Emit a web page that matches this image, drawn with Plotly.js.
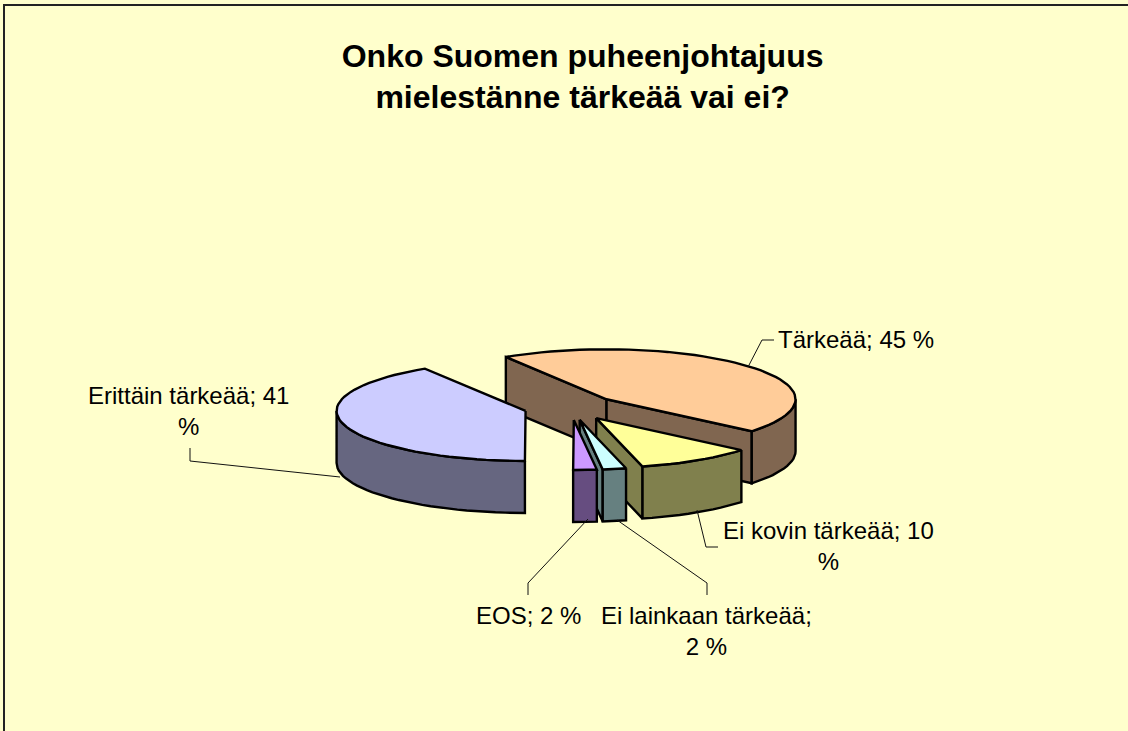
<!DOCTYPE html>
<html><head><meta charset="utf-8">
<script src="https://cdn.plot.ly/plotly-3.0.1.min.js"></script>
<style>html,body{margin:0;padding:0;background:#FFFFCC}#chart{width:1128px;height:731px}</style>
</head><body><div id="chart"></div>
<script>
const categories = ["Tärkeää","Ei kovin tärkeää","Ei lainkaan tärkeää","EOS","Erittäin tärkeää"];
const values = [45,10,2,2,41];
const topColors = ["#FFCC99","#FFFF99","#CCFFFF","#CC99FF","#CCCCFF"];
const sideColors = ["#806650","#80804D","#668080","#664D80","#666680"];
const labelTexts = ["Tärkeää; 45 %","Ei kovin tärkeää; 10<br>%","Ei lainkaan tärkeää;<br>2 %","EOS; 2 %","Erittäin tärkeää; 41<br>%"];
const labelAnchors = [[856,339],[828,546],[706,631],[528,615],[188,411]];
const leaderX = [[748,762,774],[697,706,718],[617,707,707],[588,528,528],[340,190,190]];
const leaderY = [[367,340,340],[510,547,547],[520,583,595],[519,583,595],[477,461,448]];

const cx=571, cy=407.5, rx=189, ry=50, depth=52, explode=0.25, startAngle=122.2;
const rad=d=>d*Math.PI/180;
const total=values.reduce((a,b)=>a+b,0);
let traces=[];
function poly(pts,fill){
  traces.push({type:"scatter",mode:"lines",x:pts.map(p=>p[0]),y:pts.map(p=>p[1]),
    fill:"toself",fillcolor:fill,line:{color:"#000",width:2.4},hoverinfo:"skip",showlegend:false});
}
let a=startAngle;
const wedges=values.map((v,i)=>{
  const a1=a,a2=a-v/total*360; a=a2;
  const mid=(a1+a2)/2;
  return {i,a1,a2,ox:cx+explode*rx*Math.cos(rad(mid)),oy:cy-explode*ry*Math.sin(rad(mid))};
});
function rimPt(w,t){return [w.ox+rx*Math.cos(rad(t)),w.oy-ry*Math.sin(rad(t))];}
function arc(w,from,to){const n=Math.max(2,Math.ceil(Math.abs(to-from)/3));const o=[];for(let k=0;k<=n;k++)o.push(rimPt(w,from+(to-from)*k/n));return o;}
function drawWedge(w){
  const c=sideColors[w.i], O=[w.ox,w.oy], down=p=>[p[0],p[1]+depth];
  [[w.a1,w.a1+90],[w.a2,w.a2-90]].forEach(([t,n])=>{
    if(Math.sin(rad(n))<-0.03){const p=rimPt(w,t);poly([O,p,down(p),down(O),O],c);}
  });
  // the outer wall shows only on the lower half of the rim
  [[-180,0],[-540,-360]].forEach(([lo,hi])=>{
    const s=Math.max(w.a2,lo), e=Math.min(w.a1,hi);
    if(e>s){const top=arc(w,e,s);poly(top.concat(top.slice().reverse().map(down),[top[0]]),c);}
  });
  poly([O].concat(arc(w,w.a1,w.a2),[O]),topColors[w.i]);
}
[0,4,1,2,3].forEach(i=>drawWedge(wedges[i]));
categories.forEach((c,i)=>{
  traces.push({type:"scatter",mode:"lines",x:leaderX[i],y:leaderY[i],line:{color:"#111",width:1},hoverinfo:"skip",showlegend:false,name:c});
});
const annotations=labelTexts.map((t,i)=>({xref:"x",yref:"y",x:labelAnchors[i][0],y:labelAnchors[i][1],text:t,showarrow:false,xanchor:"center",yanchor:"middle",align:"center",font:{family:"Liberation Sans",size:24,color:"#000"}}));
const layout={width:1128,height:731,margin:{l:0,r:0,t:0,b:0},paper_bgcolor:"#FFFFCC",plot_bgcolor:"#FFFFCC",showlegend:false,
  title:{text:"<b>Onko Suomen puheenjohtajuus<br>mielestänne tärkeää vai ei?</b>",x:0.5165,xanchor:"center",y:0.909,yanchor:"middle",font:{family:"Liberation Sans",size:32,color:"#000"}},
  xaxis:{range:[0,1128],visible:false,fixedrange:true},
  yaxis:{range:[731,0],visible:false,fixedrange:true},
  annotations,
  shapes:[{type:"rect",xref:"x",yref:"y",x0:4,y0:5,x1:1160,y1:780,line:{color:"#222",width:2},fillcolor:"rgba(0,0,0,0)",layer:"below"}]
};
Plotly.newPlot("chart",traces,layout,{displayModeBar:false,staticPlot:true});
</script></body></html>
